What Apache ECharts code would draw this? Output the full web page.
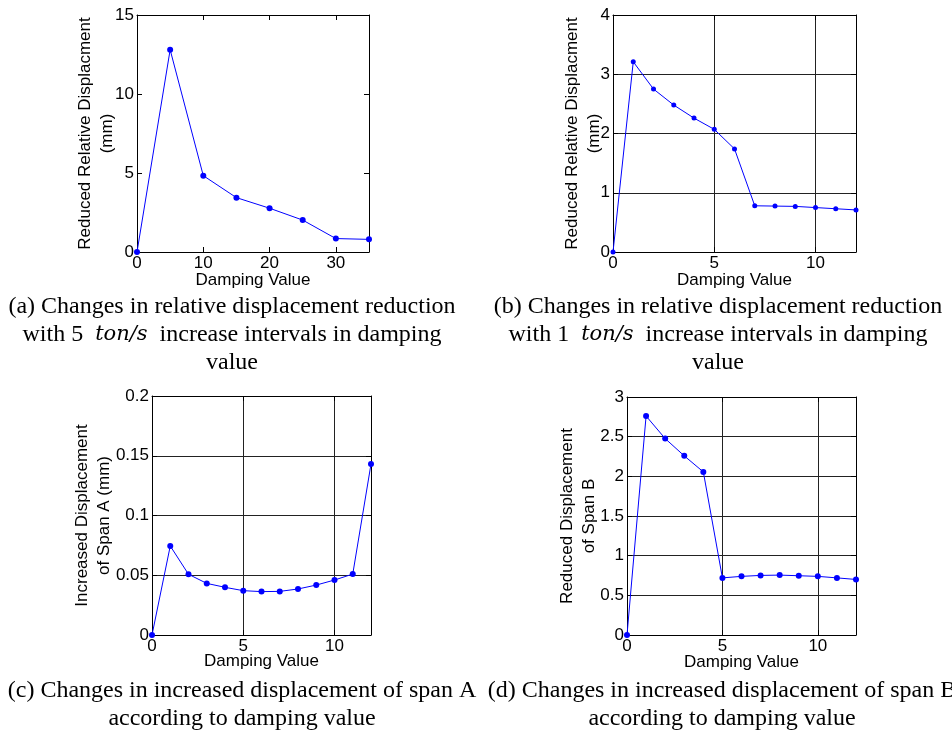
<!DOCTYPE html>
<html><head><meta charset="utf-8">
<script src="https://cdn.jsdelivr.net/npm/echarts@6/dist/echarts.min.js"></script>
<style>html,body{margin:0;padding:0;background:#fff}#c{width:952px;height:731px}</style>
</head><body><div id="c"></div>
<script>
// ---- data ----
const aX = [0, 5, 10, 15, 20, 25, 30, 35];
const aY = [0, 12.8, 4.83, 3.44, 2.77, 2.02, 0.85, 0.8];
const bX = [0, 1, 2, 3, 4, 5, 6, 7, 8, 9, 10, 11, 12];
const bY = [0, 3.21, 2.75, 2.48, 2.26, 2.07, 1.74, 0.78, 0.775, 0.77, 0.75, 0.73, 0.71];
const cX = [0, 1, 2, 3, 4, 5, 6, 7, 8, 9, 10, 11, 12];
const cY = [0, 0.0745, 0.0508, 0.0432, 0.0399, 0.0371, 0.0363, 0.0365, 0.0385, 0.0418, 0.046, 0.051, 0.143];
const dX = [0, 1, 2, 3, 4, 5, 6, 7, 8, 9, 10, 11, 12];
const dY = [0, 2.76, 2.476, 2.258, 2.056, 0.72, 0.739, 0.751, 0.755, 0.747, 0.739, 0.72, 0.70];
const yNames = ['Reduced Relative Displacment\n(mm)', 'Reduced Relative Displacment\n(mm)', 'Increased Displacement\nof Span A (mm)', 'Reduced Displacement\nof Span B'];
const xName = 'Damping Value';
const captions = [
  '(a) Changes in relative displacement reduction\nwith 5  {i|ton/s}  increase intervals in damping\nvalue',
  '(b) Changes in relative displacement reduction\nwith 1  {i|ton/s}  increase intervals in damping\nvalue',
  '(c) Changes in increased displacement of span A\naccording to damping value',
  '(d) Changes in increased displacement of span B\naccording to damping value'
];

// ---- layout ----
const grids = [
  {left: 137, top: 15, width: 232, height: 237},
  {left: 613, top: 15, width: 243, height: 237},
  {left: 152, top: 396, width: 219, height: 239},
  {left: 627, top: 397, width: 229, height: 238}
];
const xCfg = [{min: 0, max: 35, interval: 10}, {min: 0, max: 12, interval: 5}, {min: 0, max: 12, interval: 5}, {min: 0, max: 12, interval: 5}];
const yCfg = [{min: 0, max: 15, interval: 5}, {min: 0, max: 4, interval: 1}, {min: 0, max: 0.2, interval: 0.05}, {min: 0, max: 3, interval: 0.5}];
const showGrid = [false, true, true, true];
const yGap = [19, 8, 37, 27];
const xGap = [20, 20, 18, 19];
const symSize = [6, 5, 6, 6];
const capPos = [[232, 293], [718, 293], [242, 677], [722, 677]];

const FONT = '"Liberation Sans", Arial, sans-serif';
const SERIF = '"Liberation Serif", "Times New Roman", serif';
const FS = 17;
const lineCol = '#000';
const splitCol = '#222';

const xAxes = [], yAxes = [], series = [];
const datasets = [[aX, aY], [bX, bY], [cX, cY], [dX, dY]];
for (let i = 0; i < 4; i++) {
  xAxes.push({
    type: 'value', gridIndex: i, position: 'bottom', ...xCfg[i],
    name: xName, nameLocation: 'middle', nameGap: xGap[i], nameMoveOverlap: false,
    nameTextStyle: {fontFamily: FONT, fontSize: FS, color: '#000'},
    axisLine: {show: true, onZero: false, lineStyle: {color: lineCol, width: 1}},
    axisTick: {show: true, inside: true, length: 5, lineStyle: {color: lineCol}},
    axisLabel: {fontFamily: FONT, fontSize: FS, color: '#000', margin: 3, showMaxLabel: false},
    splitLine: {show: showGrid[i], lineStyle: {color: splitCol, width: 1}}
  });
  xAxes.push({
    type: 'value', gridIndex: i, position: 'top', ...xCfg[i],
    axisLine: {show: true, onZero: false, lineStyle: {color: lineCol, width: 1}},
    axisTick: {show: true, inside: true, length: 5, lineStyle: {color: lineCol}},
    axisLabel: {show: false}, splitLine: {show: false}
  });
  yAxes.push({
    type: 'value', gridIndex: i, position: 'left', ...yCfg[i],
    name: yNames[i], nameLocation: 'middle', nameGap: yGap[i], nameMoveOverlap: false,
    nameTextStyle: {fontFamily: FONT, fontSize: FS, color: '#000', lineHeight: 22},
    axisLine: {show: true, onZero: false, lineStyle: {color: lineCol, width: 1}},
    axisTick: {show: true, inside: true, length: 5, lineStyle: {color: lineCol}},
    axisLabel: {fontFamily: FONT, fontSize: FS, color: '#000', margin: 3},
    splitLine: {show: showGrid[i], lineStyle: {color: splitCol, width: 1}}
  });
  yAxes.push({
    type: 'value', gridIndex: i, position: 'right', ...yCfg[i],
    axisLine: {show: true, onZero: false, lineStyle: {color: lineCol, width: 1}},
    axisTick: {show: true, inside: true, length: 5, lineStyle: {color: lineCol}},
    axisLabel: {show: false}, splitLine: {show: false}
  });
  const [xs, ys] = datasets[i];
  series.push({
    type: 'line', xAxisIndex: 2 * i, yAxisIndex: 2 * i,
    data: xs.map((x, k) => [x, ys[k]]),
    symbol: 'circle', symbolSize: symSize[i], showSymbol: true,
    lineStyle: {color: '#0000ff', width: 1},
    itemStyle: {color: '#0000ff'},
    clip: false, animation: false
  });
}

const graphics = captions.map((t, i) => ({
  type: 'text', x: capPos[i][0], y: capPos[i][1],
  style: {
    text: t, align: 'center', verticalAlign: 'top',
    font: '24px ' + SERIF, fill: '#000', lineHeight: 28,
    rich: {i: {fontFamily: '"DejaVu Serif", serif', fontStyle: 'italic', fontSize: 21, lineHeight: 28}}
  }
}));

const chart = echarts.init(document.getElementById('c'), null, {renderer: 'canvas'});
chart.setOption({
  animation: false,
  grid: grids.map(g => ({...g, containLabel: false})),
  xAxis: xAxes, yAxis: yAxes, series: series,
  graphic: graphics
});
</script></body></html>
